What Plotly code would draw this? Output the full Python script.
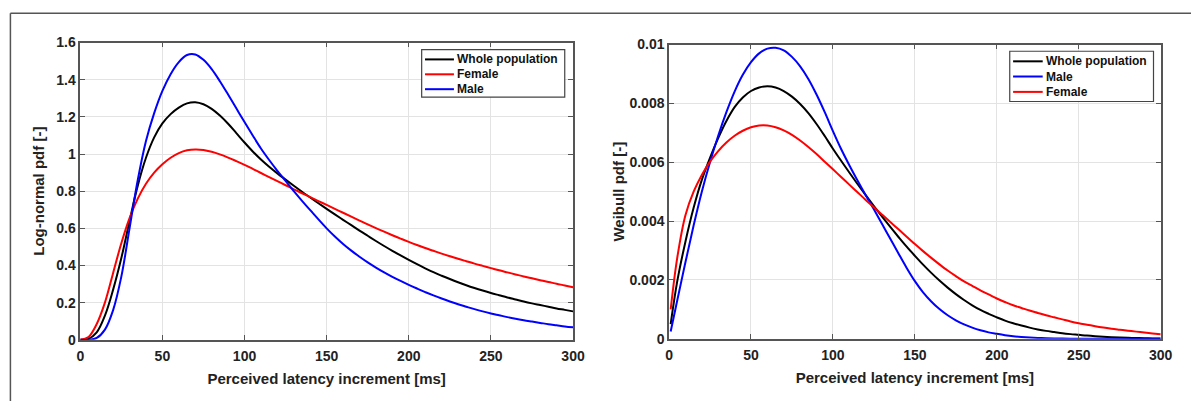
import plotly.graph_objects as go

# ---------------- data: left panel (log-normal pdf) ----------------
x_ln = list(range(0, 301, 5))
ln_whole = [0, 0.005, 0.04, 0.13, 0.27, 0.44, 0.64, 0.83, 0.98, 1.09,
            1.165, 1.215, 1.25, 1.273, 1.279, 1.268, 1.243, 1.207, 1.163, 1.113,
            1.062, 1.014, 0.971, 0.932, 0.896, 0.862, 0.829, 0.797, 0.766, 0.735,
            0.705, 0.675, 0.646, 0.617, 0.588, 0.56, 0.532, 0.505, 0.479, 0.454,
            0.43, 0.407, 0.385, 0.364, 0.345, 0.327, 0.31, 0.294, 0.279, 0.265,
            0.252, 0.24, 0.228, 0.217, 0.206, 0.196, 0.187, 0.178, 0.169, 0.161, 0.153]
ln_female = [0, 0.015, 0.085, 0.2, 0.36, 0.52, 0.655, 0.76, 0.84, 0.9,
             0.945, 0.98, 1.005, 1.02, 1.025, 1.022, 1.012, 0.998, 0.981, 0.962,
             0.942, 0.92, 0.898, 0.876, 0.854, 0.832, 0.81, 0.789, 0.768, 0.747,
             0.726, 0.705, 0.684, 0.663, 0.642, 0.621, 0.601, 0.582, 0.563, 0.545,
             0.527, 0.51, 0.494, 0.479, 0.464, 0.45, 0.436, 0.423, 0.41, 0.398,
             0.386, 0.374, 0.363, 0.352, 0.341, 0.331, 0.321, 0.311, 0.302, 0.292, 0.283]
ln_male = [0, 0.0, 0.01, 0.055, 0.16, 0.34, 0.6, 0.86, 1.07, 1.22,
           1.34, 1.43, 1.495, 1.533, 1.536, 1.507, 1.457, 1.392, 1.32, 1.246,
           1.172, 1.1, 1.03, 0.968, 0.91, 0.855, 0.8, 0.748, 0.698, 0.648,
           0.6, 0.556, 0.516, 0.48, 0.447, 0.417, 0.389, 0.363, 0.339, 0.317,
           0.296, 0.276, 0.257, 0.239, 0.222, 0.206, 0.191, 0.178, 0.165, 0.153,
           0.142, 0.132, 0.122, 0.113, 0.105, 0.098, 0.091, 0.084, 0.078, 0.072, 0.067]

# ---------------- data: right panel (Weibull pdf) ----------------
x_wb = [1] + list(range(5, 301, 5))
wb_whole = [0.0005, 0.00195, 0.0033, 0.00445, 0.0054, 0.00615, 0.00682, 0.0074, 0.00787, 0.0082,
            0.00842, 0.00854, 0.00858, 0.00854, 0.00842, 0.00823, 0.00798, 0.00767, 0.0073, 0.00689,
            0.00646, 0.00605, 0.00565, 0.00526, 0.00488, 0.00451, 0.00415, 0.0038, 0.00346, 0.00313,
            0.00282, 0.00252, 0.00224, 0.00198, 0.00174, 0.00152, 0.00132, 0.00114, 0.00098, 0.00085,
            0.00073, 0.00062, 0.00053, 0.00045, 0.00038, 0.00032, 0.00027, 0.00023, 0.00019, 0.00016,
            0.000135, 0.00011, 0.00009, 0.000072, 0.000057, 0.000045, 0.000035, 0.000027, 0.00002,
            0.000015, 0.000011]
wb_male = [0.00025, 0.0013, 0.0026, 0.00385, 0.005, 0.006, 0.0069, 0.0077, 0.0084, 0.00897,
           0.0094, 0.0097, 0.00986, 0.00989, 0.0098, 0.00958, 0.00926, 0.00883, 0.0083, 0.0077,
           0.00706, 0.00645, 0.0059, 0.00538, 0.00488, 0.0044, 0.0039, 0.0034, 0.0029, 0.00241,
           0.00196, 0.00158, 0.00127, 0.00101, 0.0008, 0.00063, 0.00049, 0.00038, 0.00029, 0.00022,
           0.00017, 0.000125, 0.00009, 0.000065, 0.000045, 0.00003, 0.00002, 0.000014, 0.000009,
           0.000006, 0.000004, 0.0000025, 0.0000015, 0.000001, 0.0000005, 0.0000003, 0.0000002,
           0.0000001, 0.0, 0.0, 0.0]
wb_female = [0.001, 0.00275, 0.0042, 0.005, 0.00557, 0.00602, 0.00638, 0.00667, 0.0069, 0.00707,
             0.00719, 0.00725, 0.00725, 0.00719, 0.00708, 0.00693, 0.00674, 0.00652, 0.00628, 0.00602,
             0.00576, 0.0055, 0.00524, 0.00498, 0.00472, 0.00447, 0.00422, 0.00397, 0.00372, 0.00347,
             0.00322, 0.00298, 0.00275, 0.00253, 0.00232, 0.00213, 0.00195, 0.0018, 0.00165, 0.00151,
             0.00137, 0.00125, 0.00114, 0.00105, 0.00096, 0.00088, 0.0008, 0.00073, 0.00066, 0.00059,
             0.00053, 0.00048, 0.00043, 0.000385, 0.000345, 0.00031, 0.000275, 0.000245, 0.000215,
             0.000185, 0.000155]

x_ticks = [0, 50, 100, 150, 200, 250, 300]
x_title = "Perceived latency increment [ms]"
y_title_left = "Log-normal pdf [-]"
y_title_right = "Weibull pdf [-]"
legend_left = ["Whole population", "Female", "Male"]
legend_right = ["Whole population", "Male", "Female"]

W, H = 1203, 409
BLACK, RED, BLUE = "#000000", "#ff0000", "#0000ff"
COLORS = {"Whole population": BLACK, "Female": RED, "Male": BLUE}
FONT = "Liberation Sans, Arial, sans-serif"

fig = go.Figure()

def add(x, y, name, xa, ya):
    fig.add_trace(go.Scatter(x=x, y=y, name=name, mode="lines", showlegend=False,
                             line=dict(color=COLORS[name], width=2, shape="spline", smoothing=1.0),
                             xaxis=xa, yaxis=ya))

add(x_ln, ln_whole, "Whole population", "x", "y")
add(x_ln, ln_female, "Female", "x", "y")
add(x_ln, ln_male, "Male", "x", "y")
add(x_wb, wb_whole, "Whole population", "x2", "y2")
add(x_wb, wb_male, "Male", "x2", "y2")
add(x_wb, wb_female, "Female", "x2", "y2")

tickfont = dict(family=FONT, size=14, color="#222222", weight="bold")
titlefont = dict(family=FONT, size=15, color="#222222", weight="bold")

def xax(domain, anchor):
    return dict(domain=domain, anchor=anchor, range=[0, 300], tickvals=x_ticks,
                showline=True, linecolor="#555555", linewidth=1.5, mirror="ticks",
                ticks="inside", ticklen=5, tickcolor="#555555", tickwidth=1,
                ticklabelstandoff=3,
                showgrid=True, gridcolor="#e3e3e3", gridwidth=1, zeroline=False,
                tickfont=tickfont, title=dict(text=x_title, font=titlefont, standoff=10))

def yax(domain, anchor, rng, dtick, title, standoff):
    return dict(domain=domain, anchor=anchor, range=rng, dtick=dtick, tick0=0,
                showline=True, linecolor="#555555", linewidth=1.5, mirror="ticks",
                ticks="inside", ticklen=5, tickcolor="#555555", tickwidth=1,
                showgrid=True, gridcolor="#e3e3e3", gridwidth=1, zeroline=False,
                tickfont=tickfont, title=dict(text=title, font=titlefont, standoff=standoff))

shapes = [
    dict(type="line", xref="paper", yref="paper", x0=6.5 / W, x1=1, y0=1 - 5.5 / H, y1=1 - 5.5 / H,
         line=dict(color="#555555", width=1.5)),
    dict(type="line", xref="paper", yref="paper", x0=6.5 / W, x1=6.5 / W, y0=0, y1=1 - 5.5 / H,
         line=dict(color="#555555", width=1.5)),
]
annotations = []

def legend_box(x0, x1, y0, y1, line_x0, line_x1, rows, names):
    shapes.append(dict(type="rect", xref="paper", yref="paper",
                       x0=x0 / W, x1=x1 / W, y0=1 - y1 / H, y1=1 - y0 / H,
                       line=dict(color="#444444", width=1.2), fillcolor="white", layer="above"))
    for ry, nm in zip(rows, names):
        shapes.append(dict(type="line", xref="paper", yref="paper",
                           x0=line_x0 / W, x1=line_x1 / W, y0=1 - ry / H, y1=1 - ry / H,
                           line=dict(color=COLORS[nm], width=2), layer="above"))
        annotations.append(dict(text=nm, xref="paper", yref="paper", x=(line_x1 + 1.5) / W,
                                y=1 - ry / H, xanchor="left", yanchor="middle", showarrow=False,
                                font=dict(family=FONT, size=12, color="#111111", weight="bold")))

legend_box(423.3, 568.3, 43.3, 92.7, 426.7, 456.0, [53.5, 69.0, 84.5], legend_left)
legend_box(1019.3, 1165.0, 45.0, 97.3, 1022.7, 1052.7, [55.5, 71.3, 87.3], legend_right)

fig.update_layout(
    width=W, height=H, margin=dict(l=0, r=0, t=0, b=0),
    paper_bgcolor="white", plot_bgcolor="white", showlegend=False,
    xaxis=xax([77.3 / W, 576.7 / W], "y"),
    yaxis=yax([1 - 345.3 / H, 1 - 36 / H], "x", [0, 1.6], 0.2, y_title_left, 8),
    xaxis2=xax([674 / W, 1172.3 / W], "y2"),
    yaxis2=yax([1 - 344.3 / H, 1 - 38 / H], "x2", [0, 0.01], 0.002, y_title_right, 1),
    shapes=shapes, annotations=annotations,
)

fig.write_html("out.html")
